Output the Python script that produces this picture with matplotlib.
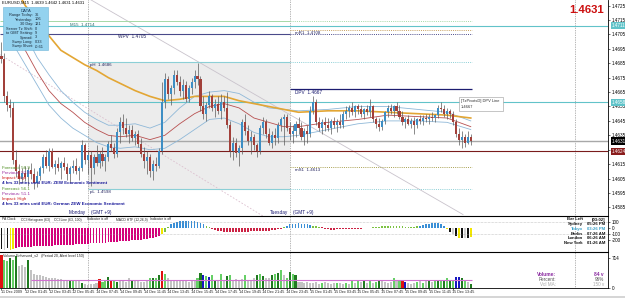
import matplotlib
matplotlib.use("Agg")
import matplotlib.pyplot as plt
from matplotlib.patches import Rectangle
import matplotlib.transforms as mtransforms

plt.rcParams['font.family'] = ['Liberation Sans', 'DejaVu Sans']

W, H = 625, 298
BASE = 1.4600   # candle lists are in pips above this price
PIP = 0.0001

# EURUSD M15 candles (pips above 1.4600)
opens_p = [90, 88, 62, 56, 54, 18, 10, 5, 9, 6,
           11, 8, 2, 7, 12, 20, 14, 24, 13, 15,
           12, 16, 13, 8, 12, 14, 10, 12, 28, 18,
           21, 12, 20, 16, 22, 17, 20, 29, 26, 22,
           37, 44, 40, 36, 39, 33, 36, 29, 22, 17,
           20, 10, 15, 14, 24, 58, 74, 64, 68, 77,
           72, 66, 70, 60, 68, 72, 76, 74, 55, 50,
           56, 62, 54, 57, 52, 58, 54, 42, 24, 30,
           23, 26, 44, 38, 31, 34, 28, 24, 40, 44,
           36, 30, 35, 33, 42, 46, 48, 40, 36, 38,
           43, 40, 34, 38, 36, 52, 58, 44, 40, 44,
           42, 40, 45, 42, 44, 42, 50, 52, 54, 51,
           55, 53, 50, 53, 51, 55, 46, 43, 41, 45,
           51, 54, 52, 55, 52, 48, 44, 46, 43, 45,
           42, 46, 45, 47, 46, 48, 47, 49, 54, 53,
           50, 52, 50, 44, 36, 32, 34, 30, 34]
highs_p = [100, 92, 66, 60, 58, 25, 15, 12, 14, 13,
           16, 12, 10, 14, 22, 25, 26, 26, 18, 20,
           17, 20, 16, 14, 18, 19, 14, 32, 30, 25,
           24, 22, 28, 24, 27, 22, 31, 35, 30, 40,
           48, 50, 47, 42, 42, 38, 39, 33, 27, 24,
           22, 18, 20, 26, 72, 78, 76, 70, 80, 80,
           76, 74, 73, 70, 75, 80, 85, 76, 62, 58,
           66, 64, 60, 62, 64, 62, 65, 45, 34, 33,
           28, 46, 50, 42, 38, 36, 30, 42, 48, 46,
           40, 38, 40, 44, 48, 50, 50, 44, 42, 45,
           48, 44, 40, 42, 55, 62, 60, 48, 46, 48,
           47, 46, 48, 46, 50, 52, 55, 56, 58, 56,
           57, 56, 54, 56, 60, 56, 48, 47, 46, 52,
           56, 57, 56, 58, 56, 52, 48, 49, 47, 48,
           47, 49, 49, 50, 50, 51, 50, 56, 58, 56,
           54, 53, 52, 46, 40, 38, 36, 38, 36]
lows_p = [85, 58, 52, 48, 15, 6, 1, 2, 3, 0,
          5, -2, -1, 4, 9, 12, 10, 12, 8, 10,
          5, 11, 4, 2, 9, 8, 4, 10, 15, 8,
          0, 8, 14, 12, 14, 10, 17, 24, 19, 20,
          30, 36, 34, 30, 31, 28, 27, 20, 12, 8,
          6, 4, 10, 12, 22, 54, 60, 56, 64, 70,
          62, 60, 58, 58, 64, 68, 70, 52, 46, 45,
          54, 52, 48, 50, 46, 52, 40, 20, 18, 20,
          14, 22, 35, 28, 22, 25, 20, 22, 36, 33,
          28, 26, 28, 30, 38, 28, 38, 32, 30, 34,
          36, 32, 28, 30, 34, 50, 42, 38, 36, 38,
          38, 36, 40, 37, 40, 40, 46, 48, 49, 48,
          50, 48, 46, 49, 48, 44, 40, 38, 39, 43,
          48, 50, 48, 50, 46, 42, 40, 42, 40, 36,
          40, 43, 42, 44, 43, 45, 44, 47, 51, 48,
          46, 47, 42, 34, 28, 26, 27, 29, 28]
closes_p = [88, 62, 56, 54, 18, 10, 5, 9, 6, 11,
            8, 2, 7, 12, 20, 14, 24, 13, 15, 12,
            16, 13, 8, 12, 14, 10, 12, 28, 18, 21,
            12, 20, 16, 22, 17, 20, 29, 26, 22, 37,
            44, 40, 36, 39, 33, 36, 29, 22, 17, 20,
            10, 15, 14, 24, 58, 74, 64, 68, 77, 72,
            66, 70, 60, 68, 72, 76, 74, 55, 50, 56,
            62, 54, 57, 52, 58, 54, 42, 24, 30, 23,
            26, 44, 38, 31, 34, 28, 24, 40, 44, 36,
            30, 35, 33, 42, 46, 48, 40, 36, 38, 43,
            40, 34, 38, 36, 52, 58, 44, 40, 44, 42,
            40, 45, 42, 44, 42, 50, 52, 54, 51, 55,
            53, 50, 53, 51, 55, 46, 43, 41, 45, 51,
            54, 52, 55, 52, 48, 44, 46, 43, 45, 42,
            46, 45, 47, 46, 48, 47, 49, 54, 53, 50,
            52, 50, 44, 36, 32, 34, 30, 34, 31]

# moving average / band lines, sampled at these bars
ma_bars = [4, 8, 12, 16, 20, 24, 28, 32, 36, 40, 45, 50, 55, 60, 65, 70,
           75, 80, 85, 90, 95, 100, 110, 120, 130, 140, 150, 158]
ma_slow = [1.4740, 1.4725, 1.4715, 1.4704, 1.4694, 1.4689, 1.4684, 1.4680,
           1.4675, 1.4671, 1.4666, 1.4662, 1.4659, 1.4660, 1.4662, 1.4662,
           1.4662, 1.4659, 1.4657, 1.4655, 1.4653, 1.4651, 1.4652, 1.4652,
           1.4651, 1.4650, 1.4649, 1.4647]
band_mid = [1.4708, 1.4694, 1.4679, 1.4666, 1.4657, 1.4651, 1.4644, 1.4639,
            1.4635, 1.4634, 1.4635, 1.4632, 1.4635, 1.4643, 1.4650, 1.4655,
            1.4657, 1.4654, 1.4647, 1.4644, 1.4641, 1.4641, 1.4644, 1.4646,
            1.4649, 1.4648, 1.4647, 1.4641]
band_up = [1.4719, 1.4705, 1.4689, 1.4677, 1.4666, 1.4658, 1.4651, 1.4646,
           1.4642, 1.4642, 1.4643, 1.4640, 1.4644, 1.4654, 1.4662, 1.4665,
           1.4666, 1.4664, 1.4658, 1.4654, 1.4653, 1.4652, 1.4653, 1.4655,
           1.4655, 1.4653, 1.4651, 1.4645]
band_low = [1.4698, 1.4684, 1.4670, 1.4656, 1.4647, 1.4640, 1.4635, 1.4630,
            1.4627, 1.4626, 1.4627, 1.4625, 1.4626, 1.4632, 1.4639, 1.4646,
            1.4647, 1.4643, 1.4637, 1.4634, 1.4634, 1.4635, 1.4639, 1.4643,
            1.4645, 1.4645, 1.4644, 1.4639]

# trend line anchors (bar, price)
trend_bars = [30.1, 155.4]
trend_prices = [1.4729, 1.4580]
trend2_bars = [-0.5, 88]
trend2_prices = [1.4691, 1.4579]

# CCI histogram (63)
cci = [-350, -360, -340, -365, -350,
       -325, -322, -320, -317, -314, -311, -308, -305, -302, -300,
       -297, -295, -292, -290, -287, -285, -282, -280, -277, -275,
       -272, -270, -267, -264, -261, -258, -255, -252, -250, -247,
       -244, -240, -236, -232, -228, -224, -220, -216, -212, -208,
       -204, -198, -192, -186, -180, -172, -160, -145, -125, -95,
       -60, 20, 60, 80, 100, 110, 120, 125, 120, 115,
       110, 100, 90, 70, 40, 20, -20, -40, -50, -55,
       -60, -65, -70, -70, -68, -66, -64, -62, -60, -58,
       -56, -54, -52, -50, -48, -45, -40, -30, -20, -10,
       20, 40, 60, 70, 75, 80, 75, 70, 60, 50,
       40, 30, 20, 10, -10, -20, -25, -25, -20, -20,
       -18, -16, -15, -14, -12, -10, -10, -8, -6, -5,
       10, 20, 25, 30, 35, 40, 40, 35, 30, 28,
       26, 24, 22, 20, 25, 30, 40, 50, 60, 70,
       80, 85, 80, 60, 30, -20, -60, -100, -140, -160,
       -170, -165, -160, -150]
cci_state = ("kwkyy" + "m" * 49 + "ygg" + "b" * 12 + "gg" + "r" * 24
             + "gbbbbbbbbbggg" + "r" * 17 + "g" * 16 + "b" * 9 + "ykwkykwky")

# Volume Enhanced
volumes = [790, 670, 650, 720, 670, 770, 520, 540, 500, 670, 430,
           330, 300, 310, 280, 260, 240, 230, 240, 220, 210,
           200, 190, 200, 190, 190, 190, 110, 90, 80, 100,
           90, 120, 210, 150, 170, 260, 180, 200, 150, 160,
           170, 140, 250, 190, 160, 170, 150, 140, 190, 240,
           230, 250, 300, 400, 330, 230, 190, 170, 160, 170,
           170, 160, 150, 170, 190, 250, 370, 300, 290, 260,
           310, 200, 180, 330, 190, 290, 310, 200, 220, 190,
           210, 300, 200, 190, 240, 310, 340, 290, 230, 240,
           310, 330, 350, 420, 300, 250, 380, 330, 300, 150,
           140, 130, 150, 120, 110, 140, 100, 120, 140, 110,
           100, 110, 120, 130, 90, 110, 100, 160, 120, 180,
           150, 200, 130, 170, 120, 150, 200, 160, 140, 120,
           150, 230, 160, 170, 200, 150, 130, 100, 120, 140,
           160, 120, 180, 170, 150, 190, 160, 200, 190, 230,
           200, 170, 260, 260, 250, 190, 150, 84]
vol_state = ("rggdgdsssds" "ssssssssss" "ssdgssdsss" "ssrggdrgds" "sssdsssssg"
             "dgdrgsssss" "sssssgdbgb" "gdsgsdgsss" "sgsssdgdss" "dgdgsgdgds"
             "sssssssgss" "ssgssgsgsg" "sdsgsgdsss" "sgsgrbsssg" "sgsdsgdgdg"
             "dgbbdgsd")
vol_level = 190

time_labels = ["11 Dec 2009", "12 Dec 01:45", "12 Dec 03:45", "12 Dec 05:45",
               "14 Dec 07:45", "14 Dec 09:45", "14 Dec 11:45", "14 Dec 13:45",
               "14 Dec 15:45", "14 Dec 17:45", "14 Dec 19:45", "14 Dec 21:45",
               "14 Dec 23:45", "15 Dec 01:45", "15 Dec 03:45", "15 Dec 05:45",
               "15 Dec 07:45", "15 Dec 09:45", "15 Dec 11:45", "15 Dec 13:45"]
price_ticks = [1.4725, 1.4715, 1.4705, 1.4695, 1.4685, 1.4675, 1.4665, 1.4655,
               1.4645, 1.4635, 1.4625, 1.4615, 1.4605, 1.4595, 1.4585]
day_breaks = [29, 97, 193]

n = len(closes_p)
opens = [BASE + v * PIP for v in opens_p]
highs = [BASE + v * PIP for v in highs_p]
lows = [BASE + v * PIP for v in lows_p]
closes = [BASE + v * PIP for v in closes_p]
xs = list(range(n))

fig = plt.figure(figsize=(6.25, 2.98), dpi=100)
fig.patch.set_facecolor('white')


def rect(x0, y0, x1, y1):
    return [x0 / W, 1 - y1 / H, (x1 - x0) / W, (y1 - y0) / H]


def T(x, y, s, **kw):
    kw.setdefault('fontsize', 3.6)
    kw.setdefault('va', 'center')
    return fig.text(x / W, 1 - y / H, s, **kw)


def box(x0, y0, x1, y1, **kw):
    fig.add_artist(Rectangle((x0 / W, 1 - y1 / H), (x1 - x0) / W, (y1 - y0) / H,
                             transform=fig.transFigure, **kw))


ax = fig.add_axes(rect(0, 0, 608, 216))
ind = fig.add_axes(rect(0, 216, 608, 252))
vol = fig.add_axes(rect(0, 252, 608, 288))
XL = (-0.5, 204.2)
for a in (ax, ind, vol):
    a.set_xlim(*XL)
    a.set_xticks([])
    for s in ('left', 'top', 'bottom'):
        a.spines[s].set_visible(False)
    a.spines['right'].set_linewidth(0.6)
    a.yaxis.tick_right()
    a.tick_params(axis='y', labelsize=3.3, length=1.5, width=0.4, pad=1)
for a in (ind, vol):
    a.spines['top'].set_visible(True)
    a.spines['top'].set_linewidth(0.8)
vol.spines['bottom'].set_visible(True)
vol.spines['bottom'].set_linewidth(0.6)

# ---------------- main chart ----------------
ax.set_ylim(1.4579, 1.47289)
ax.set_yticks(price_ticks)
ax.set_yticklabels(['%.4f' % p for p in price_ticks])

ax.add_patch(Rectangle((29, 1.4598), 68, 1.4686 - 1.4598, facecolor='#ececec',
                       edgecolor='none', zorder=0))
for b in day_breaks:
    for a in (ax, ind, vol):
        a.axvline(b, color='#707070', lw=0.5, ls=(0, (1, 1.5)), zorder=1)

ax.plot(trend_bars, trend_prices, color='#c9c3cc', lw=0.6, zorder=1)
ax.plot(trend2_bars, trend2_prices, color='#dcc0cf', lw=0.6, ls=(0, (2, 2)),
        zorder=1)

end = n - 0.5
# full width levels
ax.axhline(1.4711, color='#62c3c9', lw=0.8, zorder=2)
ax.axhline(1.4658, color='#62c3c9', lw=0.8, zorder=2)
ax.axhline(1.4631, color='#a8a8a8', lw=1.0, zorder=2)
ax.axhline(1.4624, color='#7a1c1c', lw=0.8, zorder=2)
# pivots
dot = (0, (1, 1.2))
ax.hlines(1.4714, -0.5, 97, color='#a6d8a6', lw=0.7)
ax.hlines(1.4714, 97, end, color='#a6d8a6', lw=0.7, linestyles=[dot])
ax.hlines(1.4705, -0.5, 97, color='#4a4a8a', lw=0.8)
ax.hlines(1.4705, 97, end, color='#4a4a8a', lw=0.7, linestyles=[dot])
ax.hlines(1.4708, 97, end, color='#c8a060', lw=0.7, linestyles=[dot])
ax.hlines(1.4686, 29, 97, color='#8ccfd6', lw=0.8)
ax.hlines(1.4686, 97, end, color='#8ccfd6', lw=0.7, linestyles=[dot])
ax.hlines(1.4598, 29, 97, color='#8ccfd6', lw=0.8)
ax.hlines(1.4598, 97, end, color='#8ccfd6', lw=0.7, linestyles=[dot])
ax.hlines(1.4667, 97, end, color='#1c1c70', lw=0.9)
ax.hlines(1.4613, 97, end, color='#a8a050', lw=0.7, linestyles=[dot])

ax.plot(ma_bars, band_up, color='#8fb8d8', lw=0.6, zorder=3)
ax.plot(ma_bars, band_low, color='#8fb8d8', lw=0.6, zorder=3)
ax.plot(ma_bars, band_mid, color='#b85050', lw=0.6, zorder=3)
ax.plot(ma_bars, ma_slow, color='#e3a634', lw=1.2, zorder=3)

bodies_b, bodies_h, cols = [], [], []
for o, c in zip(opens, closes):
    bodies_b.append(min(o, c))
    bodies_h.append(max(abs(c - o), 0.00004))
    cols.append('#3d8ec4' if c > o else ('#a2403a' if c < o else '#808080'))
ax.vlines(xs, lows, highs, colors='#5a5a5a', lw=0.5, zorder=4)
ax.bar(xs, bodies_h, bottom=bodies_b, width=0.7, color=cols, lw=0, zorder=5)

# price boxes on the axis
tb = mtransforms.blended_transform_factory(ax.transAxes, ax.transData)
for p, fc in ((1.4711, '#5fc3c9'), (1.4658, '#5fc3c9'), (1.4631, '#000000'),
              (1.4624, '#8a1c1c')):
    ax.text(1.006, p, '%.4f' % p, transform=tb, fontsize=3.3, color='white',
            va='center', ha='left', zorder=6,
            bbox=dict(boxstyle='square,pad=0.25', fc=fc, ec='none'))

# ---------------- indicator (CCI) ----------------
ind.set_ylim(-400, 200)
ind.set_yticks([100, 0, -100, -200])
ind.set_yticklabels(['100', '0', '-100', '-200'])
for lv in (100, -100):
    ind.axhline(lv, color='#9a9a9a', lw=0.4, ls=(0, (1, 1.5)))
cmap = {'m': '#d4007a', 'b': '#3a8fd6', 'g': '#7cc242', 'r': '#cc2244',
        'y': '#f2e600', 'k': '#111111', 'w': '#d0d0d0'}
ind.bar(xs, cci, width=0.6, color=[cmap[s] for s in cci_state], lw=0)

# ---------------- volume ----------------
vol.set_ylim(0, 860)
vol.set_yticks([714, 0])
vol.set_yticklabels(['714', '0'])
vmap = {'s': '#c3c3c3', 'g': '#66d066', 'd': '#1f7a1f', 'r': '#e01010',
        'b': '#1616c0'}
vol.bar(xs, volumes, width=0.7, color=[vmap[s] for s in vol_state], lw=0)
vol.hlines(vol_level, 10, n - 0.5, color='#d070d0', lw=0.8)
vol.set_xticks([8 * k for k in range(len(time_labels))])
vol.tick_params(axis='x', length=1.5, width=0.4, labelbottom=False)
for k, lab in enumerate(time_labels):
    x = 1.0 + 2.97 * 8 * k
    T(x, 292.3, lab, fontsize=2.7, ha='left', color='#222222')
box(0, 295.5, 625, 298, facecolor='#d6d6d6', edgecolor='none')

# ---------------- texts / overlays ----------------
T(2, 3, 'EURUSD,M15  1.4639 1.4642 1.4631 1.4631', fontsize=3.0)
box(3, 7, 48, 50, facecolor='#93d2ef', edgecolor='#6fb4d8', lw=0.4)
T(25.5, 10.5, 'DATA', fontsize=3.0, ha='center', color='#1a3a5a')
data_rows = [('Range Today:', '36'), ('Yesterday:', '106'), ('30 Day:', '121'),
             ('Server Tz Shift:', '0'), ('to GMT Setting:', '9'),
             ('Spread:', '3'), ('Swap Long:', '0.33'), ('Swap Short:', '-0.61')]
for k, (lab, val) in enumerate(data_rows):
    T(33, 15 + 4.5 * k, lab, fontsize=2.8, ha='right', color='#1a2a3a')
    T(35, 15 + 4.5 * k, val, fontsize=2.8, ha='left', color='#1a2a3a')

T(604, 10, '1.4631', fontsize=8.2, ha='right', color='#cc0f0f', weight='bold')
T(70, 24.5, 'M15  1.4714', fontsize=3.2, color='#2e6e6e')
T(118, 37, 'WPV  1.4705', fontsize=3.4, color='#24245e')
T(295, 33, 'mR1  1.4708', fontsize=3.2, color='#24245e')
T(90, 65, 'pH  1.4686', fontsize=3.2, color='#24245e')
T(295, 92, 'DPV  1.4667', fontsize=3.4, color='#1c1c70')
T(295, 170, 'mS1  1.4613', fontsize=3.2, color='#24245e')
T(90, 192, 'pL  1.4598', fontsize=3.2, color='#24245e')

box(459, 97, 503, 111, facecolor='white', edgecolor='#9a9a9a', lw=0.4)
T(461, 101, '[TzPivotsD] DPV Line', fontsize=2.9, color='#333333')
T(461, 107.5, '1.4667', fontsize=2.9, color='#333333')

news = [('Forecast: 56.9', '#4f8f22'), ('Previous: 57.8', '#9a2aa0'),
        ('Impact: High', '#d01818'),
        ('4 hrs 33 mins until EUR: ZEW Economic Sentiment', '#1a1a9a'),
        ('Forecast: 56.1', '#4f8f22'), ('Previous: 51.1', '#9a2aa0'),
        ('Impact: High', '#d01818'),
        ('4 hrs 33 mins until EUR: German ZEW Economic Sentiment', '#1a1a9a')]
for k, (s, c) in enumerate(news):
    yy = 168 + 5 * k + (1 if k >= 4 else 0)
    T(2, yy, s, fontsize=3.15, color=c, weight='bold' if k % 4 == 3 else 'normal')

T(86, 212.5, 'Monday', fontsize=3.4, ha='right', color='#1a1a70')
T(91, 212.5, '(GMT +9)', fontsize=3.4, color='#1a1a70')
T(288, 212.5, 'Tuesday', fontsize=3.4, ha='right', color='#1a1a70')
T(293, 212.5, '(GMT +9)', fontsize=3.4, color='#1a1a70')

hdr = [(2, 'PA Clock'), (21, 'CCI Histogram (63)'), (54, 'CCI Line (63, 100)'),
       (87, 'Indicator is off'), (116, 'MACD HTF (12,26,9)'),
       (150, 'Indicator is off')]
for x, s in hdr:
    T(x, 219.5, s, fontsize=2.4, color='#222222')
clock = [('Bar Left', '[03:02]', '#111111'), ('Sydney', '05:26 PM', '#111111'),
         ('Tokyo', '03:26 PM', '#3aa0c8'), ('Berlin', '07:26 AM', '#111111'),
         ('London', '06:26 AM', '#111111'), ('New York', '01:26 AM', '#111111')]
for k, (lab, val, c) in enumerate(clock):
    T(583, 219.5 + 4.7 * k, lab, fontsize=3.1, ha='right', color=c, weight='bold')
    T(605, 219.5 + 4.7 * k, val, fontsize=3.1, ha='right', color=c, weight='bold')

T(3, 256, 'Volume Enhanced_v2   (Period 20, Alert level 150)', fontsize=2.6,
  color='#222222')
T(556, 275, 'Volume:', fontsize=3.5, ha='right', color='#8a2aa0', weight='bold')
T(604, 275, '84 v', fontsize=3.5, ha='right', color='#8a2aa0', weight='bold')
T(556, 279.5, 'Percent:', fontsize=3.3, ha='right', color='#555555')
T(604, 279.5, '96%', fontsize=3.3, ha='right', color='#555555')
T(556, 284, 'Vol MA:', fontsize=3.3, ha='right', color='#aaaaaa')
T(604, 284, '150 v', fontsize=3.3, ha='right', color='#aaaaaa')

fig.savefig('out.png', dpi=100)
